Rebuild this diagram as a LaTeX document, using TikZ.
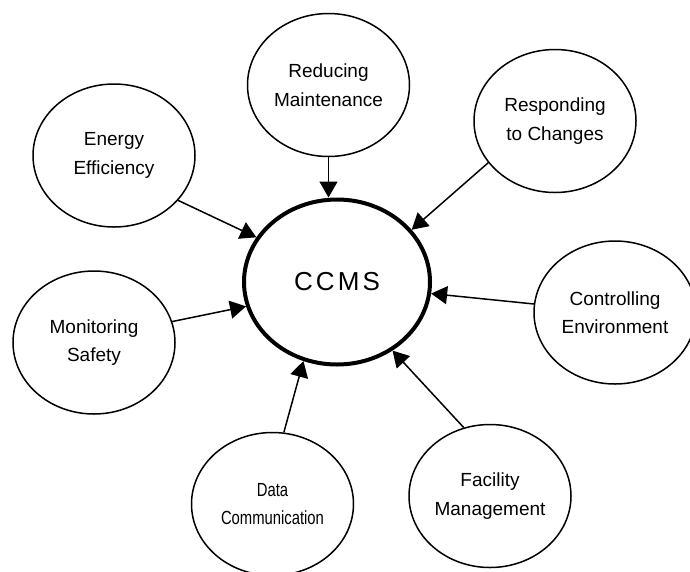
\documentclass[tikz,border=0pt]{standalone}
\usepackage{graphicx}
\usepackage{fontspec}
\setmainfont{Liberation Sans}
\usetikzlibrary{shapes.geometric}
\usetikzlibrary{arrows.meta}
\tikzset{tips=proper}
\tikzset{%
    hub/.style={ellipse, draw, line width=4pt, minimum width=186pt, minimum height=165pt,
        font=\fontsize{26}{30}\selectfont\addfontfeatures{LetterSpace=12}},
    goal/.style={ellipse, draw, line width=1.5pt, minimum width=162pt, minimum height=143pt,
        inner sep=0pt, align=center, font=\fontsize{19}{28.5}\selectfont},
    arrow/.style={draw, line width=1.5pt, {-{Triangle[length=16pt, width=18pt]}}}
}
\newcommand{\squeezed}[1]{\scalebox{0.78}[1]{#1}}

\begin{document}
\begin{tikzpicture}[x=1pt, y=-1pt]
    \useasboundingbox (0,0) rectangle (690,571);
    \node[hub] (ccms) at (337,282) {CCMS};
    \node[goal] (reducing) at (328.5,85) {Reducing\\Maintenance};
    \node[goal] (responding) at (555,121) {Responding\\to Changes};
    \node[goal] (energy) at (114,155.5) {Energy\\Efficiency};
    \node[goal] (controlling) at (615,312.5) {Controlling\\Environment};
    \node[goal] (monitoring) at (94,342.5) {Monitoring\\Safety};
    \node[goal] (datacomm) at (272.5,504) {\squeezed{Data}\\\squeezed{Communication}};
    \node[goal] (facility) at (490,496) {Facility\\Management};

    \draw[arrow] (reducing.south) -- (reducing.south |- ccms.north);
    \draw[arrow] (responding.212) -- (ccms.35);
    \draw[arrow] (energy.-35) -- (ccms.151);
    \draw[arrow] (controlling.174) -- (ccms.-7);
    \draw[arrow] (monitoring.15) -- (ccms.195);
    \draw[arrow] (datacomm.81) -- (ccms.247);
    \draw[arrow] (facility.111) -- (ccms.-51);
\end{tikzpicture}
\end{document}
